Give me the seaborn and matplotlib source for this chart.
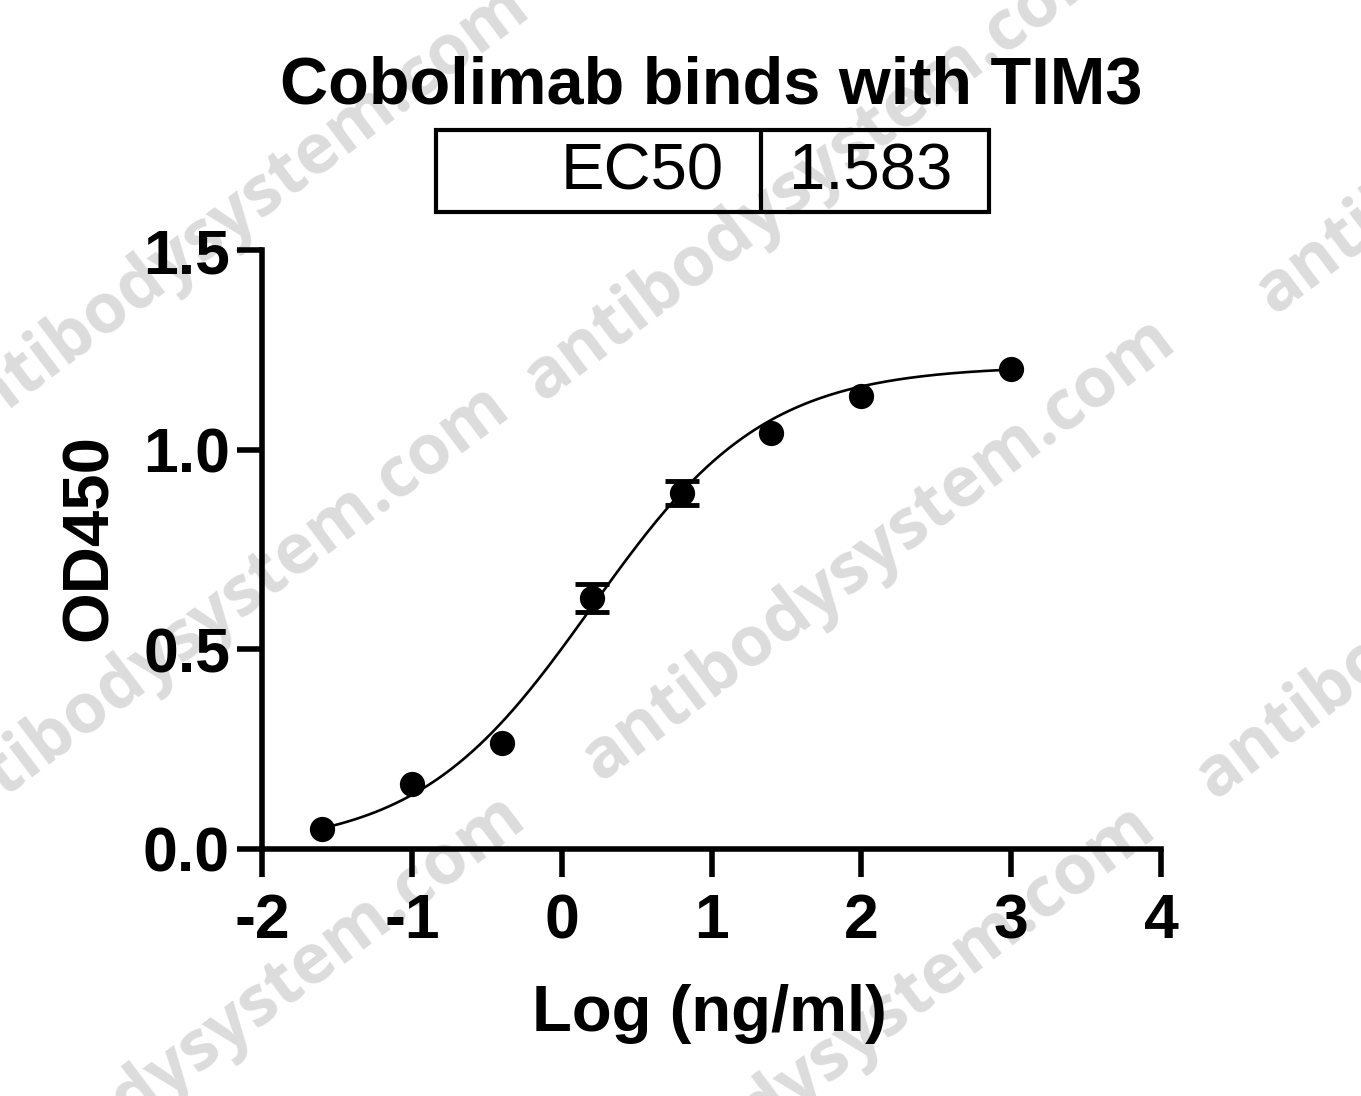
import numpy as np
import pandas as pd
import matplotlib
matplotlib.use("Agg")
import matplotlib.pyplot as plt
from matplotlib.patches import Rectangle
from matplotlib.lines import Line2D
import seaborn as sns

# ---- data ----
log_conc = [-1.6, -1.0, -0.4, 0.2, 0.8, 1.4, 2.0, 3.0]
od450 = [0.050, 0.163, 0.265, 0.629, 0.892, 1.042, 1.134, 1.202]
od450_err = [0.0, 0.0, 0.0, 0.035, 0.030, 0.0, 0.0, 0.0]

# 4PL fit parameters of the drawn curve
fit_bottom = 0.0
fit_top = 1.21
fit_log_ec50 = 0.1995  # log10(1.583)
fit_hill = 0.75

title = "Cobolimab binds with TIM3"
ec50_label = "EC50"
ec50_value = "1.583"
x_label = "Log (ng/ml)"
y_label = "OD450"
x_ticks = [-2, -1, 0, 1, 2, 3, 4]
y_ticks = [0.0, 0.5, 1.0, 1.5]
y_tick_labels = ["0.0", "0.5", "1.0", "1.5"]

watermark = "antibodysystem.com"
watermark_centers = [(232, 217), (820, 170), (1552, 83), (212, 617), (878, 550),
                     (1492, 568), (228, 1027), (858, 1037)]

# ---- styling ----
sns.set_theme(style="ticks")
plt.rcParams["font.family"] = ["Liberation Sans", "DejaVu Sans"]

W, H = 1361, 1096
fig = plt.figure(figsize=(W / 100, H / 100), dpi=100)
fig.patch.set_facecolor("white")

# watermarks behind everything
for cx, cy in watermark_centers:
    fig.text(cx / W, 1 - cy / H, watermark, rotation=37, rotation_mode="anchor",
             ha="center", va="center", fontsize=50, fontweight="bold",
             family=["Open Sans", "DejaVu Sans"], color="#dcdcdc", zorder=-5)

ax = fig.add_axes([262 / W, 1 - 849 / H, 899 / W, 599 / H])
ax.patch.set_alpha(0)
ax.set_zorder(1)

# fitted curve
xs = np.linspace(min(log_conc), max(log_conc), 300)
ys = fit_bottom + (fit_top - fit_bottom) / (1 + 10 ** ((fit_log_ec50 - xs) * fit_hill))
curve = pd.DataFrame({"x": xs, "y": ys})
sns.lineplot(data=curve, x="x", y="y", ax=ax, color="black", linewidth=1.9, zorder=2)

# error bars (only where an error is visible)
pts = pd.DataFrame({"x": log_conc, "y": od450, "err": od450_err})
eb = pts[pts["err"] > 0]
ax.errorbar(eb["x"], eb["y"], yerr=eb["err"], fmt="none", ecolor="black",
            elinewidth=2.5, capsize=12, capthick=3.5, zorder=3)

# points
sns.scatterplot(data=pts, x="x", y="y", ax=ax, color="black", s=330,
                edgecolor="black", linewidth=0, zorder=4, clip_on=False)

ax.set_xlim(-2, 4)
ax.set_ylim(0, 1.5)
ax.set_xticks(x_ticks)
ax.set_xticklabels([str(t) for t in x_ticks])
ax.set_yticks(y_ticks)
ax.set_yticklabels(y_tick_labels)

for side in ["top", "right"]:
    ax.spines[side].set_visible(False)
for side in ["left", "bottom"]:
    ax.spines[side].set_linewidth(4)
    ax.spines[side].set_color("black")
    ax.spines[side].set_capstyle("projecting")

ax.tick_params(axis="y", length=18, width=4, pad=5, labelsize=45, colors="black")
ax.tick_params(axis="x", length=20, width=4, pad=11, labelsize=45, colors="black")
for lab in ax.get_xticklabels() + ax.get_yticklabels():
    lab.set_fontweight("bold")

ax.set_xlabel(x_label, fontsize=47, fontweight="bold", color="black")
ax.set_ylabel(y_label, fontsize=47, fontweight="bold", color="black")
ax.xaxis.set_label_coords(0.498, -0.225)
ax.yaxis.set_label_coords(-0.158, 0.52)

# title
fig.text(711 / W, 1 - 104 / H, title, ha="center", va="baseline",
         fontsize=48, fontweight="bold", color="black")

# EC50 table
x0, y0, x1, y1, xd = 436, 130, 989, 212, 761
fig.patches.append(Rectangle((x0 / W, 1 - y1 / H), (x1 - x0) / W, (y1 - y0) / H,
                             transform=fig.transFigure, fill=False,
                             edgecolor="black", linewidth=3))
fig.lines.append(Line2D([xd / W, xd / W], [1 - y0 / H, 1 - y1 / H],
                        transform=fig.transFigure, color="black", linewidth=3))
fig.text(724 / W, 1 - 190 / H, ec50_label, ha="right", va="baseline",
         fontsize=47, color="black")
fig.text(789 / W, 1 - 190 / H, ec50_value, ha="left", va="baseline",
         fontsize=47, color="black")

fig.savefig("out.png", dpi=100, facecolor="white")
